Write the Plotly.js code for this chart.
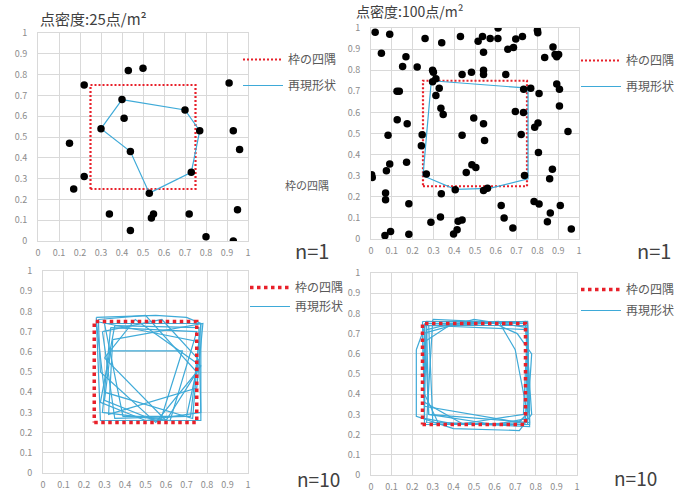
<!DOCTYPE html>
<html><head><meta charset="utf-8">
<script src="https://cdn.plot.ly/plotly-3.0.1.min.js"></script>
<style>html,body{margin:0;padding:0;background:#fff}#c{width:686px;height:492px}</style>
</head><body><div id="c"></div>
<script>
// ---- data ----
const ticks = [0,0.1,0.2,0.3,0.4,0.5,0.6,0.7,0.8,0.9,1];
const frameX = [0.25,0.75,0.75,0.25,0.25];
const frameY = [0.25,0.25,0.75,0.75,0.25];

// 25 points/m2, n=1
const pts25X = [0.22,0.43,0.50,0.91,0.40,0.70,0.41,0.30,0.77,0.93,0.15,0.96,0.44,0.73,0.22,0.17,0.53,0.34,0.55,0.54,0.72,0.95,0.44,0.80,0.93];
const pts25Y = [0.75,0.82,0.83,0.76,0.68,0.63,0.59,0.54,0.53,0.53,0.47,0.44,0.43,0.33,0.31,0.25,0.23,0.13,0.13,0.11,0.13,0.15,0.05,0.02,0.00];
const shape25X = [0.40,0.70,0.77,0.73,0.53,0.44,0.30,0.40];
const shape25Y = [0.68,0.63,0.53,0.33,0.23,0.43,0.54,0.68];

// 100 points/m2, n=1
const pts100X = [0.02,0.09,0.05,0.26,0.34,0.515,0.536,0.573,0.541,0.611,0.658,0.685,0.696,0.728,0.80,0.802,0.875,0.835,0.885,0.893,0.902,
  0.168,0.152,0.222,0.296,0.30,0.438,0.483,0.541,0.541,0.648,0.125,0.136,0.296,0.312,0.328,0.312,0.336,0.347,
  0.734,0.768,0.808,0.893,0.906,0.906,0.126,0.174,0.082,0.246,0.242,0.438,0.494,0.541,0.546,
  0.694,0.733,0.722,0.787,0.803,0.805,0.947,0.09,0.074,0.003,0.006,0.171,0.266,0.485,0.504,0.458,
  0.738,0.872,0.859,0.405,0.541,0.56,0.07,0.07,0.338,0.182,0.626,0.784,0.808,0.91,0.862,0.848,
  0.334,0.288,0.419,0.438,0.414,0.397,0.64,0.682,0.067,0.094,0.182,0.963,0.43,0.61];
const pts100Y = [0.98,0.97,0.88,0.95,0.93,0.937,0.96,0.95,0.885,1.0,0.899,0.907,0.948,0.96,0.989,0.978,0.91,0.86,0.875,0.864,0.875,
  0.864,0.818,0.815,0.80,0.79,0.78,0.79,0.80,0.78,0.78,0.70,0.70,0.745,0.76,0.715,0.68,0.62,0.59,
  0.71,0.715,0.69,0.735,0.71,0.63,0.565,0.546,0.492,0.494,0.442,0.492,0.574,0.546,0.467,
  0.604,0.60,0.495,0.53,0.55,0.41,0.51,0.355,0.323,0.304,0.292,0.364,0.308,0.352,0.339,0.315,
  0.301,0.331,0.285,0.233,0.23,0.24,0.218,0.186,0.214,0.167,0.159,0.178,0.166,0.159,0.123,0.082,
  0.104,0.079,0.084,0.09,0.044,0.024,0.099,0.052,0.016,0.035,0.022,0.047,0.96,0.95];
const shape100X = [0.29,0.755,0.755,0.57,0.405,0.25,0.29];
const shape100Y = [0.75,0.715,0.285,0.24,0.235,0.30,0.75];

// 25 points/m2, n=10 : ten reconstructed outlines
const rec25 = [
  [[0.26,0.55,0.70,0.77,0.77,0.28,0.26],[0.77,0.78,0.77,0.74,0.26,0.26,0.77]],
  [[0.33,0.68,0.57,0.30,0.33],[0.605,0.605,0.25,0.36,0.605]],
  [[0.30,0.77,0.72,0.39,0.30],[0.74,0.74,0.28,0.28,0.74]],
  [[0.27,0.50,0.75,0.55,0.28,0.27],[0.76,0.78,0.50,0.25,0.50,0.76]],
  [[0.33,0.75,0.62,0.29,0.33],[0.72,0.70,0.26,0.30,0.72]],
  [[0.29,0.58,0.76,0.70,0.35,0.29],[0.70,0.76,0.56,0.28,0.27,0.70]],
  [[0.26,0.76,0.73,0.30,0.26],[0.75,0.65,0.27,0.40,0.75]],
  [[0.35,0.76,0.77,0.50,0.28,0.35],[0.73,0.72,0.30,0.26,0.35,0.73]],
  [[0.30,0.45,0.77,0.60,0.30],[0.57,0.76,0.53,0.26,0.57]],
  [[0.34,0.78,0.75,0.32,0.34],[0.66,0.74,0.42,0.29,0.66]]
];
// 100 points/m2, n=10
const rec100 = [
  [[0.25,0.76,0.77,0.26,0.25],[0.76,0.76,0.25,0.25,0.76]],
  [[0.22,0.27,0.75,0.78,0.72,0.40,0.22,0.22],[0.62,0.76,0.75,0.30,0.22,0.23,0.29,0.62]],
  [[0.27,0.40,0.62,0.70,0.76,0.70,0.33,0.26,0.27],[0.72,0.75,0.76,0.62,0.30,0.25,0.25,0.40,0.72]],
  [[0.30,0.76,0.76,0.27,0.30],[0.77,0.75,0.25,0.26,0.77]],
  [[0.26,0.38,0.75,0.77,0.72,0.26,0.26],[0.66,0.74,0.76,0.32,0.26,0.34,0.66]],
  [[0.28,0.76,0.77,0.30,0.28],[0.74,0.72,0.24,0.26,0.74]],
  [[0.26,0.60,0.71,0.78,0.76,0.60,0.28,0.26],[0.75,0.75,0.70,0.60,0.28,0.25,0.30,0.75]],
  [[0.25,0.50,0.76,0.75,0.45,0.26,0.25],[0.70,0.77,0.73,0.26,0.25,0.36,0.70]],
  [[0.28,0.27,0.76,0.77,0.28],[0.30,0.74,0.76,0.26,0.30]],
  [[0.26,0.76,0.74,0.42,0.26,0.26],[0.74,0.74,0.30,0.25,0.28,0.74]]
];

// ---- styling helpers ----
const W = 686, H = 492;
const RED = '#e8202a', BLUE = '#3eaad8';
const TXT = '#595959';
const FONT = 'Noto Sans CJK JP, Noto Sans, sans-serif';
function joinPolys(polys){
  const x = [], y = [];
  polys.forEach((p,i)=>{ if(i){x.push(null);y.push(null);} x.push(...p[0]); y.push(...p[1]); });
  return {x, y};
}
function ax(domPx, vertical){
  const d = vertical ? [1-domPx[1]/H, 1-domPx[0]/H] : [domPx[0]/W, domPx[1]/W];
  return {domain:d, range:[0,1], tickvals:ticks, ticktext:ticks.map(String),
    showgrid:true, gridcolor:'#d9d9d9', gridwidth:1, zeroline:false,
    showline:true, linecolor:'#d9d9d9', mirror:true, ticks:'',
    tickfont:{size:9, color:'#8c8c8c', family:FONT}, ticklabelstandoff: vertical?8:3, fixedrange:true};
}

const traces = [];
function panel(n, legName, ptsX, ptsY, shX, shY, bottom){
  const xa = n===1?'x':'x'+n, ya = n===1?'y':'y'+n;
  const frame = {x:frameX, y:frameY, xaxis:xa, yaxis:ya, type:'scatter', mode:'lines', name:'枠の四隅',
    legend:legName, legendrank:1, legendgroup:'f'+n,
    line:{color:RED, width: bottom?3.5:2.2, dash: bottom?'dot':'2px,2px'}, hoverinfo:'skip'};
  const shape = {x:shX, y:shY, xaxis:xa, yaxis:ya, type:'scatter', mode:'lines', name:'再現形状',
    legend:legName, legendrank:2, legendgroup:'s'+n, line:{color:BLUE, width:1.2}, hoverinfo:'skip'};
  if(bottom){ traces.push(shape, frame); } else { traces.push(frame, shape); }
  if(ptsX){
    traces.push({x:ptsX, y:ptsY, xaxis:xa, yaxis:ya, type:'scatter', mode:'markers', showlegend:false,
      marker:{color:'#000', size:7.5}, hoverinfo:'skip'});
  }
}
panel(1,'legend',pts25X,pts25Y,shape25X,shape25Y,false);
panel(2,'legend2',pts100X,pts100Y,shape100X,shape100Y,false);
const r25 = joinPolys(rec25), r100 = joinPolys(rec100);
panel(3,'legend3',null,null,r25.x,r25.y,true);
panel(4,'legend4',null,null,r100.x,r100.y,true);

function leg(xpx, ypx, gap){
  return {x:xpx/W, y:1-ypx/H, xanchor:'left', yanchor:'top', bgcolor:'rgba(0,0,0,0)',
    font:{size:12, color:TXT, family:FONT}, itemwidth:40, tracegroupgap:gap, traceorder:'grouped'};
}
const ann = (t,x,y,size,color,xa)=>({text:t, x:x/W, y:1-y/H, xref:'paper', yref:'paper', showarrow:false,
  xanchor:xa||'left', yanchor:'middle', font:{size, color, family:FONT}});

const layout = {
  width:W, height:H, margin:{l:0,r:0,t:0,b:0}, paper_bgcolor:'#fff', plot_bgcolor:'#fff',
  font:{family:FONT},
  xaxis:Object.assign(ax([38,248],false),{anchor:'y'}), yaxis:Object.assign(ax([33,241],true),{anchor:'x'}),
  xaxis2:Object.assign(ax([371,579],false),{anchor:'y2'}), yaxis2:Object.assign(ax([28,239],true),{anchor:'x2'}),
  xaxis3:Object.assign(ax([43,248],false),{anchor:'y3'}), yaxis3:Object.assign(ax([271,473],true),{anchor:'x3'}),
  xaxis4:Object.assign(ax([371,577],false),{anchor:'y4'}), yaxis4:Object.assign(ax([273,475],true),{anchor:'x4'}),
  legend:leg(238,45,7), legend2:leg(576,46,7), legend3:leg(245,273,0), legend4:leg(576,275,2),
  annotations:[
    ann('点密度:25点/m²',38,18,15,'#404040'),
    ann('点密度:100点/m²',354,11,14,'#404040'),
    ann('枠の四隅',283,185,11,TXT),
    ann('n=1',293,250,20,'#404040'),
    ann('n=1',635,250,20,'#404040'),
    ann('n=10',295,478,19,'#404040'),
    ann('n=10',612,477,19,'#404040')
  ]
};
Plotly.newPlot('c', traces, layout, {displayModeBar:false, staticPlot:true});
</script></body></html>
